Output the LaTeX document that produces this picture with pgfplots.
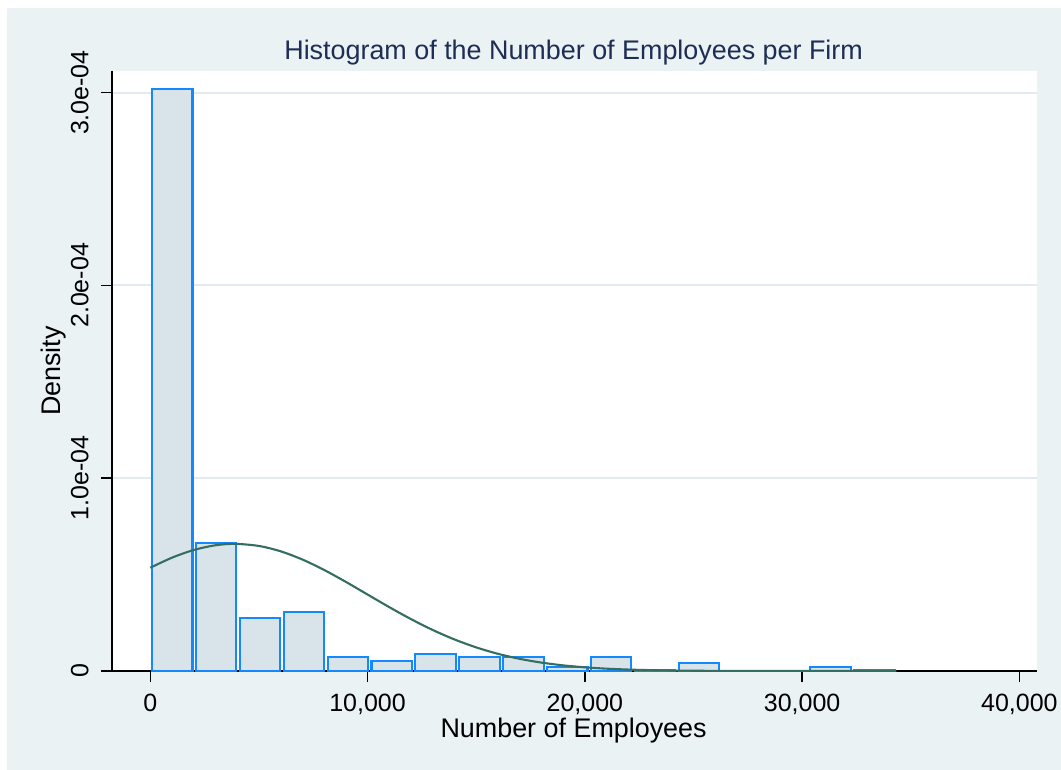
\documentclass[border=0pt]{standalone}
\usepackage{pgfplots}
\pgfplotsset{compat=1.18}
\usepackage{fontspec}
\setmainfont{Liberation Sans}
\definecolor{bgc}{RGB}{234,242,243}
\definecolor{gridc}{RGB}{226,235,238}
\definecolor{barfill}{RGB}{216,228,234}
\definecolor{barline}{RGB}{20,136,255}
\definecolor{curvec}{RGB}{52,110,98}
\definecolor{titlec}{RGB}{30,45,85}
\begin{document}
\begin{tikzpicture}[font=\fontsize{12.5bp}{15bp}\selectfont]
\fill[white] (0,0) rectangle (530.5bp,-385bp);
\fill[bgc] (3.5bp,-4bp) rectangle (530.5bp,-385bp);
\begin{axis}[
  at={(56bp,-335.5bp)}, anchor=south west,
  scale only axis, width=462.5bp, height=300bp,
  xmin=-1763, xmax=40810, ymin=0, ymax=3.112,
  axis x line*=bottom, axis y line*=left,
  axis background/.style={fill=white},
  axis line style={black, line width=0.75bp, -},
  tick align=outside, major tick length=5.5bp,
  tick style={black, line width=0.75bp},
  scaled x ticks=false, scaled y ticks=false,
  xtick={0,10000,20000,30000,40000},
  xticklabels={0,{10,000},{20,000},{30,000},{40,000}},
  xticklabel style={inner ysep=6bp},
  ytick={0,1,2,3},
  yticklabels={0,1.0e-04,2.0e-04,3.0e-04},
  yticklabel style={rotate=90, anchor=south, inner ysep=6bp},
  ymajorgrids, grid style={gridc, line width=1bp},
  minor tick num=0,
]
\addplot[ybar, bar width=1860, bar shift=0pt, draw=barline, fill=barfill, line width=1.05bp] coordinates {
(1010,3.019) (3030,0.665) (5050,0.276) (7070,0.308) (9090,0.074) (11110,0.053)
(13130,0.090) (15150,0.071) (17170,0.073) (19190,0.022) (21210,0.073)
(23230,0.005) (25250,0.043) (31310,0.022) (33330,0.005)
};
\addplot[curvec, line width=1.05bp, smooth, no marks] coordinates {
(0,0.5357) (1000,0.5879) (2000,0.6277) (3000,0.6522) (3900,0.6594) (5000,0.6486)
(6000,0.6208) (7000,0.5783) (8000,0.5241) (9000,0.4623) (10000,0.3966)
(11000,0.3312) (12000,0.2691) (13000,0.2127) (14000,0.1637) (15000,0.1225)
(16000,0.0892) (17000,0.0632) (18000,0.0436) (19000,0.0293) (20000,0.0191)
(21000,0.0121) (22000,0.0075) (23000,0.0045) (24000,0.0026) (25000,0.0015)
(26000,0.0008) (28000,0.0002) (30000,0.0001) (32000,0.0) (34340,0.0)
};
\end{axis}
\draw[black, line width=0.75bp] (50.5bp,-335.5bp) -- (56bp,-335.5bp);
\node[anchor=base, text=titlec, font=\fontsize{13.45bp}{16bp}\selectfont] at (286.8bp,-29.65bp) {Histogram of the Number of Employees per Firm};
\node[anchor=base, font=\fontsize{13.45bp}{16bp}\selectfont] at (286.8bp,-368.65bp) {Number of Employees};
\node[rotate=90, anchor=base, font=\fontsize{13.45bp}{16bp}\selectfont] at (30.35bp,-185.5bp) {Density};
\pgfresetboundingbox
\useasboundingbox (0,0) rectangle (530.5bp,-385bp);
\end{tikzpicture}
\end{document}
